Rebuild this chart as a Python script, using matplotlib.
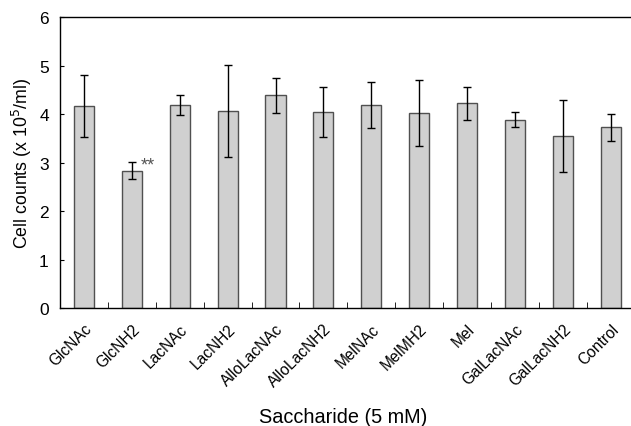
import numpy as np
import matplotlib
import matplotlib.pyplot as plt

matplotlib.use("Agg")

# ----------------------------------------------------
# Data
# ----------------------------------------------------
labels = ["GlcNAc", "GlcNH2", "LacNAc", "LacNH2", "AlloLacNAc", "AlloLacNH2",
          "MelNAc", "MelMH2", "Mel", "GalLacNAc", "GalLacNH2", "Control"]
means = [4.17, 2.84, 4.19, 4.07, 4.39, 4.05, 4.19, 4.03, 4.23, 3.89, 3.55, 3.73]
errors = [0.64, 0.18, 0.20, 0.95, 0.36, 0.52, 0.47, 0.68, 0.34, 0.15, 0.74, 0.28]

plt.rcParams["font.family"] = ["Liberation Sans", "DejaVu Sans"]

# ----------------------------------------------------
# Figure
# ----------------------------------------------------
fig = plt.figure(figsize=(6.31, 4.27), dpi=100)
ax = fig.add_axes([0.095, 0.2756, 0.905, 0.6815])

x = np.arange(len(labels))
ax.bar(x, means, width=0.42, color="#d0d0d0", edgecolor="#505050",
       linewidth=1.0, zorder=2)
ax.errorbar(x, means, yerr=errors, fmt="none", ecolor="black",
            elinewidth=1.0, capsize=2.6, capthick=1.0, zorder=3)

# significance mark
ax.text(1 + 0.18, means[1] + errors[1] - 0.06, "**", fontsize=13,
        color="#555555", ha="left", va="center")

ax.set_xlim(-0.5, 11.42)
ax.set_ylim(0, 6)
ax.set_yticks(range(0, 7))
ax.tick_params(axis="y", direction="in", length=3, labelsize=12.5, pad=8)

# category labels at bar centres, tick marks between categories
ax.set_xticks(x)
ax.set_xticklabels(labels, rotation=45, ha="right", rotation_mode="anchor",
                   fontsize=11.2)
ax.tick_params(axis="x", which="major", length=0, pad=9)
ax.set_xticks(x[:-1] + 0.5, minor=True)
ax.tick_params(axis="x", which="minor", direction="in", length=4)

ax.spines["right"].set_visible(False)
for s in ["left", "top", "bottom"]:
    ax.spines[s].set_linewidth(1.0)

ax.set_ylabel("Cell counts (x 10$^5$/ml)", fontsize=12.8, labelpad=4)
fig.text(0.544, 0.01, "Saccharide (5 mM)", fontsize=14.3, ha="center",
         va="baseline")

plt.savefig("out.png", dpi=100)
plt.close()
